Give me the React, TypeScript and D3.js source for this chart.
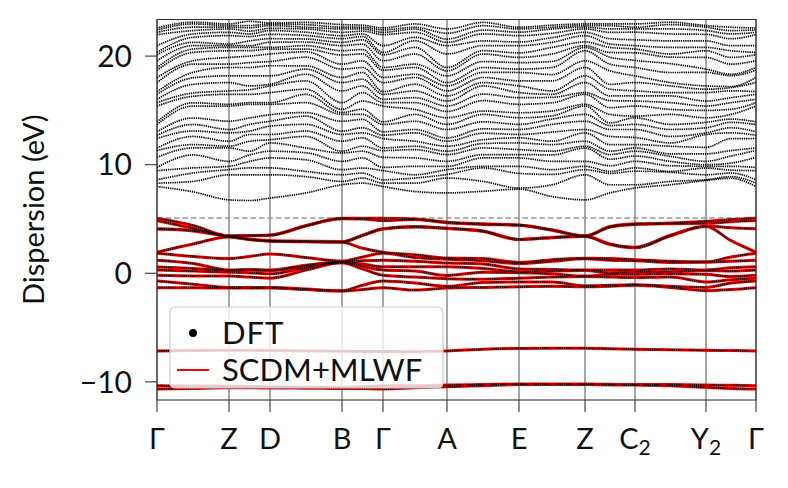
import React from 'react';
import * as d3 from 'd3';

const W = 788;
const H = 488;

// k-path sample positions (path distance) and high-symmetry ticks
const kPath = [0, 36, 72, 92.5, 113, 149, 185, 205.5, 226, 258, 290, 326, 362, 395, 428, 453, 478, 513.5, 549, 574, 599];
const kTicks = [0, 72, 113, 185, 226, 290, 362, 428, 478, 549, 599];
const kLabels = ['Γ', 'Z', 'D', 'B', 'Γ', 'A', 'E', 'Z', 'C', 'Y', 'Γ'];
const kLabelSubs = ['', '', '', '', '', '', '', '', '2', '2', ''];
const yTicks = [-10, 0, 10, 20];
const yDomain = [-11.67, 23.37];
const frozenWindow = 5.1;

// Conduction bands (DFT only), energies at each k sample
const condG = [7.99, 8.3, 8.61, 9.45, 9.75, 10.68, 11.3, 11.54, 12.41, 12.72, 13.03, 13.7, 13.95, 15.4, 15.71, 16.02, 16.48, 16.73, 17.56, 18.03, 18.7, 18.95, 19.57, 20.12, 20.34, 20.96, 21.98, 22.19, 22.41, 22.59];
const condGZ = [7.5, 8.46, 9.23, 9.7, 10.9, 11.54, 11.85, 12.6, 13.1, 13.7, 14.3, 15.4, 15.7, 16.3, 16.6, 17.4, 18.0, 18.5, 19.26, 19.57, 20.34, 20.65, 20.96, 21.27, 21.73, 22.04, 22.35, 22.66, 22.96, 23.12];
const condZ = [6.76, 9.07, 9.54, 9.85, 10.31, 11.54, 11.7, 12.16, 12.93, 13.24, 14.0, 15.4, 15.56, 16.48, 16.79, 17.56, 18.18, 18.95, 19.26, 19.88, 20.49, 20.8, 20.96, 21.11, 21.88, 22.19, 22.5, 22.66, 22.81, 22.96];
const condZD = [6.7, 9.07, 9.7, 10.3, 10.9, 11.24, 12.16, 12.78, 13.09, 13.71, 14.3, 15.56, 15.71, 16.48, 16.9, 17.25, 18.18, 18.95, 19.4, 20.0, 20.5, 20.8, 20.96, 21.4, 21.8, 22.04, 22.3, 22.6, 22.81, 23.2];
const condD = [6.92, 9.07, 9.7, 10.62, 11.24, 12.0, 12.3, 12.78, 13.55, 14.0, 14.6, 15.56, 15.71, 16.64, 17.25, 17.41, 18.18, 19.11, 19.5, 20.19, 20.65, 20.8, 21.27, 21.6, 22.0, 22.35, 22.55, 22.81, 22.95, 23.05];
const condDB = [7.4, 8.9, 9.38, 10.45, 11.1, 11.54, 12.6, 13.1, 13.71, 14.47, 14.8, 15.71, 16.48, 16.95, 17.72, 18.33, 18.8, 19.1, 19.9, 20.4, 20.65, 20.96, 21.3, 21.57, 21.9, 22.2, 22.5, 22.66, 22.9, 23.1];
const condB = [8.15, 8.46, 9.07, 9.54, 10.31, 11.08, 11.24, 12.16, 12.78, 13.09, 14.0, 14.63, 14.8, 15.09, 15.71, 16.79, 17.56, 18.03, 18.8, 19.26, 20.1, 20.5, 20.96, 21.27, 21.6, 21.88, 22.19, 22.5, 22.66, 22.9];
const condBG = [8.3, 8.77, 9.23, 9.69, 10.62, 11.24, 11.7, 12.47, 12.93, 13.4, 14.17, 14.63, 15.1, 15.86, 16.64, 17.25, 17.87, 18.49, 18.95, 19.57, 20.2, 20.6, 21.1, 21.5, 21.8, 22.04, 22.3, 22.5, 22.66, 22.85];
const condGA = [7.53, 8.3, 8.77, 9.07, 9.85, 10.62, 11.39, 11.7, 12.16, 12.93, 13.24, 14.0, 14.63, 15.09, 15.71, 16.17, 16.79, 17.41, 18.03, 18.33, 18.95, 19.26, 20.19, 20.8, 21.42, 21.73, 22.19, 22.5, 22.66, 22.96];
const condA = [7.4, 8.77, 9.1, 9.54, 9.85, 10.31, 10.93, 11.24, 11.7, 12.16, 12.47, 13.24, 13.71, 14.32, 14.9, 15.4, 15.86, 16.33, 16.8, 17.25, 17.56, 18.18, 18.64, 18.95, 20.2, 20.96, 21.27, 21.57, 22.1, 22.5];
const condAE = [7.55, 8.46, 9.7, 9.85, 10.62, 10.93, 11.54, 11.95, 12.3, 12.9, 13.3, 13.95, 14.63, 14.94, 15.9, 16.5, 17.25, 17.56, 18.03, 18.5, 18.95, 19.5, 20.19, 20.5, 20.96, 21.4, 22.04, 22.4, 22.8, 23.1];
const condE = [7.75, 7.85, 9.2, 9.85, 10.62, 10.93, 11.39, 12.0, 12.47, 12.78, 13.24, 13.71, 14.32, 14.78, 15.56, 16.17, 16.64, 17.25, 17.72, 18.49, 18.8, 19.4, 19.88, 20.3, 20.96, 21.3, 21.88, 22.2, 22.5, 22.66];
const condEZ = [7.07, 8.15, 9.1, 9.54, 10.31, 10.9, 11.24, 11.85, 12.16, 13.0, 13.71, 14.2, 14.5, 14.94, 15.7, 16.2, 16.48, 16.79, 17.72, 18.3, 18.95, 19.5, 20.2, 20.8, 21.27, 21.7, 22.1, 22.5, 22.66, 22.85];
const condZ2 = [6.76, 9.07, 9.54, 9.85, 10.31, 11.54, 11.7, 12.16, 12.93, 13.24, 14.0, 14.63, 15.4, 15.56, 16.48, 16.64, 17.56, 18.18, 18.95, 19.57, 20.49, 20.8, 20.96, 21.3, 21.88, 22.19, 22.5, 22.66, 22.81, 22.96];
const condZC = [7.4, 8.15, 9.2, 9.38, 9.9, 10.5, 10.93, 11.24, 11.85, 12.6, 13.24, 13.6, 13.85, 14.63, 15.25, 15.9, 16.33, 16.95, 17.4, 18.64, 19.26, 19.9, 20.34, 20.8, 21.11, 21.6, 22.19, 22.5, 22.8, 22.96];
const condC2 = [7.85, 8.15, 9.4, 9.7, 10.31, 10.8, 11.24, 11.54, 11.85, 12.5, 13.24, 13.71, 14.32, 14.47, 15.4, 15.86, 16.33, 16.8, 17.56, 18.18, 18.95, 19.6, 20.3, 20.65, 20.96, 21.5, 22.2, 22.5, 22.66, 22.96];
const condCY = [8.15, 8.46, 9.3, 9.38, 9.9, 10.3, 10.76, 11.0, 11.7, 12.0, 12.6, 13.24, 13.71, 14.63, 15.09, 15.71, 16.33, 16.64, 17.25, 17.56, 18.49, 19.3, 19.9, 20.19, 20.8, 21.4, 22.04, 22.5, 22.9, 23.12];
const condY2 = [8.55, 8.61, 9.07, 9.69, 9.85, 10.0, 10.31, 11.0, 11.6, 12.78, 12.93, 13.4, 13.9, 14.32, 15.0, 15.4, 15.86, 16.64, 16.95, 17.25, 18.5, 18.8, 19.88, 20.49, 20.8, 21.4, 22.0, 22.35, 22.66, 22.81];
const condYG = [8.75, 8.9, 9.23, 9.5, 9.85, 10.15, 10.8, 11.3, 12.4, 12.93, 13.4, 13.9, 14.2, 14.63, 15.1, 15.71, 16.17, 16.8, 17.1, 17.2, 18.2, 18.33, 19.26, 19.88, 20.49, 20.96, 21.6, 22.04, 22.35, 22.66];

// Wannierised valence manifold, energies at each k sample
const valG = [5.06, 4.85, 4.1, 4.08, 1.94, 1.85, 1.2, 0.59, 0.3, -0.19, -0.71, -1.33];
const valGZ = [4.4, 4.15, 3.95, 3.9, 2.7, 1.55, 0.9, 0.45, 0.2, -0.25, -1.0, -1.33];
const valZ = [3.45, 3.43, 3.4, 3.38, 3.35, 1.36, 0.3, 0.26, 0.1, -0.26, -1.3, -1.36];
const valZD = [3.48, 3.46, 3.15, 3.12, 3.1, 1.55, 0.35, 0.28, 0.05, -0.35, -1.3, -1.36];
const valD = [3.53, 3.5, 3.0, 2.97, 2.95, 1.78, 0.3, 0.25, -0.05, -0.45, -1.3, -1.36];
const valDB = [4.4, 4.35, 2.95, 2.93, 2.9, 1.45, 0.75, 0.65, 0.5, 0.3, -1.45, -1.5];
const valB = [5.06, 5.03, 2.92, 2.89, 2.86, 1.12, 1.08, 1.04, 1.0, 0.96, -1.6, -1.64];
const valBG = [5.06, 5.0, 3.5, 3.48, 2.3, 1.5, 1.15, 0.85, 0.65, 0.4, -1.1, -1.5];
const valGA = [5.0, 4.95, 4.3, 4.25, 1.7, 1.45, 1.1, 0.6, 0.2, -0.35, -0.9, -1.55];
const valA = [4.7, 4.66, 4.15, 4.12, 1.4, 1.3, 0.95, 0.6, -0.2, -0.5, -1.2, -1.35];
const valAE = [4.55, 4.5, 3.9, 3.85, 1.35, 1.15, 0.85, 0.45, 0.1, -0.55, -0.85, -1.3];
const valE = [4.45, 4.42, 3.12, 3.1, 1.0, 0.9, 0.4, 0.15, 0.05, -0.45, -0.8, -1.25];
const valEZ = [4.0, 3.95, 3.3, 3.28, 1.25, 1.1, 0.35, 0.2, -0.05, -0.35, -0.8, -1.2];
const valZ2 = [3.45, 3.43, 3.4, 3.38, 1.38, 1.34, 0.3, 0.26, -0.26, -0.3, -1.15, -1.25];
const valZC = [4.3, 4.25, 2.7, 2.65, 1.35, 1.2, 0.3, 0.05, -0.1, -0.35, -1.1, -1.2];
const valC2 = [4.55, 4.5, 2.4, 2.35, 1.25, 1.15, 0.3, 0.12, -0.1, -0.4, -1.05, -1.1];
const valCY = [4.62, 4.57, 3.5, 3.45, 1.1, 1.0, 0.4, 0.15, -0.05, -0.35, -1.2, -1.3];
const valY2 = [4.78, 4.6, 4.35, 4.3, 1.05, 1.02, 0.3, 0.25, -0.1, -0.8, -1.3, -1.6];
const valYG = [4.95, 4.75, 4.2, 3.0, 1.5, 1.1, 0.5, 0.2, -0.3, -0.6, -0.9, -1.5];
const valGend = [5.06, 4.85, 4.1, 1.94, 1.85, 1.2, 0.59, 0.3, -0.19, -0.45, -0.71, -1.33];

// Deep bands (along kPath)
const bandM7 = [-7.15, -7.12, -7.1, -7.1, -7.12, -7.15, -7.18, -7.2, -7.2, -7.22, -7.15, -7.0, -6.92, -6.9, -6.9, -6.95, -7.0, -7.05, -7.1, -7.12, -7.15];
const bandM10a = [-10.35, -10.38, -10.4, -10.42, -10.45, -10.48, -10.5, -10.45, -10.35, -10.35, -10.3, -10.25, -10.2, -10.2, -10.2, -10.22, -10.25, -10.25, -10.3, -10.32, -10.35];
const bandM10b = [-10.65, -10.6, -10.55, -10.55, -10.56, -10.58, -10.6, -10.62, -10.65, -10.55, -10.45, -10.35, -10.25, -10.25, -10.25, -10.28, -10.3, -10.35, -10.5, -10.6, -10.65];

const condCols = [condG, condGZ, condZ, condZD, condD, condDB, condB, condBG, condG, condGA, condA, condAE, condE, condEZ, condZ2, condZC, condC2, condCY, condY2, condYG, condG];
const valCols = [valG, valGZ, valZ, valZD, valD, valDB, valB, valBG, valG, valGA, valA, valAE, valE, valEZ, valZ2, valZC, valC2, valCY, valY2, valYG, valGend];

function colsToBands(cols: number[][]): [number, number][][] {
  const sorted = cols.map((c) => [...c].sort((a, b) => a - b));
  const n = sorted[0].length;
  const out: [number, number][][] = [];
  for (let i = 0; i < n; i++) out.push(kPath.map((k, j) => [k, sorted[j][i]] as [number, number]));
  return out;
}
const rowToBand = (row: number[]) => kPath.map((k, j) => [k, row[j]] as [number, number]);

export default function App() {
  const L = 157, R = 756, T = 19.5, B = 400;
  const x = d3.scaleLinear().domain([0, 599]).range([L, R]);
  const y = d3.scaleLinear().domain(yDomain).range([B, T]);
  const line = d3
    .line<[number, number]>()
    .x((d) => x(d[0]))
    .y((d) => y(d[1]))
    .curve(d3.curveMonotoneX);

  const condBands = colsToBands(condCols);
  const valBands = colsToBands(valCols);
  const deepBands = [bandM7, bandM10a, bandM10b].map(rowToBand);
  const wannier = [...valBands, ...deepBands];
  const allDft = [...condBands, ...wannier];

  const font = "Lato, 'DejaVu Sans', sans-serif";

  return (
    <svg width={W} height={H} style={{ position: 'absolute', left: 0, top: 0, background: '#fff' }} fontFamily={font}>
      <defs>
        <clipPath id="plot">
          <rect x={L} y={T} width={R - L} height={B - T} />
        </clipPath>
      </defs>
      {kTicks.map((k, i) => (
        <line key={'g' + i} x1={x(k)} x2={x(k)} y1={T} y2={B} stroke="#8a8a8a" strokeWidth={1.5} />
      ))}
      <line x1={L} x2={R} y1={y(frozenWindow)} y2={y(frozenWindow)} stroke="#999" strokeWidth={1.5} strokeDasharray="5.5,3" />
      <g clipPath="url(#plot)">
        {wannier.map((b, i) => (
          <path key={'w' + i} d={line(b) || ''} fill="none" stroke="#ff0000" strokeWidth={3} />
        ))}
        {allDft.map((b, i) => (
          <path key={'d' + i} d={line(b) || ''} fill="none" stroke="#000" strokeWidth={1.7} strokeDasharray="1.3,0.9" />
        ))}
      </g>
      <rect x={L} y={T} width={R - L} height={B - T} fill="none" stroke="#333" strokeWidth={1.1} />
      {yTicks.map((t) => (
        <g key={'yt' + t}>
          <line x1={L - 12} x2={L} y1={y(t)} y2={y(t)} stroke="#333" strokeWidth={1.1} />
          <text x={132} y={y(t)} dy="0.36em" textAnchor="end" fontSize={30} fill="#111">
            {t < 0 ? '\u2212' + Math.abs(t) : String(t)}
          </text>
        </g>
      ))}
      {kTicks.map((k, i) => (
        <g key={'xt' + i}>
          <line x1={x(k)} x2={x(k)} y1={B} y2={B + 12} stroke="#333" strokeWidth={1.1} />
          <text x={x(k)} y={449} textAnchor="middle" fontSize={29} fill="#111">
            {kLabels[i]}
            {kLabelSubs[i] ? (
              <tspan fontSize={21} dy={6}>
                {kLabelSubs[i]}
              </tspan>
            ) : null}
          </text>
        </g>
      ))}
      <text transform={`translate(44,${(T + B) / 2}) rotate(-90)`} textAnchor="middle" fontSize={29} fill="#111">
        Dispersion (eV)
      </text>
      <g>
        <rect x={170} y={307} width={273} height={81} rx={5} fill="#fff" fillOpacity={0.8} stroke="#cccccc" strokeWidth={1.2} />
        <circle cx={193} cy={333} r={4} fill="#000" />
        <text x={222} y={344} fontSize={31} letterSpacing={1} fill="#111">DFT</text>
        <line x1={177} x2={209} y1={370} y2={370} stroke="#ff0000" strokeWidth={2} />
        <text x={222} y={381} fontSize={31} letterSpacing={0} fill="#111">SCDM+MLWF</text>
      </g>
    </svg>
  );
}
